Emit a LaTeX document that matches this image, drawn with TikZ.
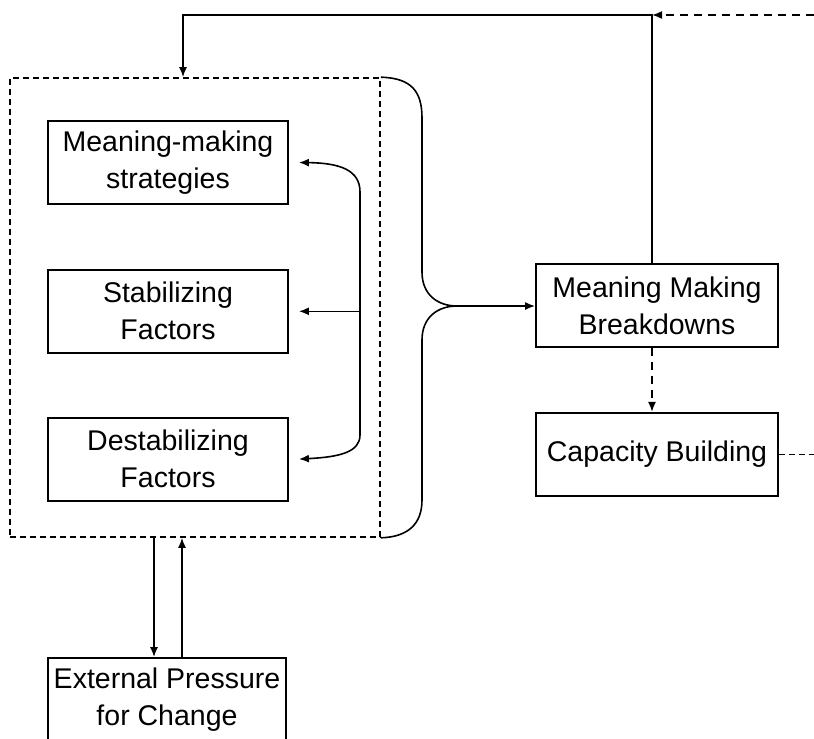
\documentclass[tikz,border=0pt]{standalone}
\usepackage{fontspec}
\setmainfont{Liberation Sans}
\usetikzlibrary{arrows.meta}
\usetikzlibrary{positioning}
\tikzset{box/.style={draw=black, line width=0.9pt, minimum width=#1, minimum height=41.5pt, inner sep=0pt, align=center, font=\fontsize{14.25}{18.5}\selectfont},
	%default width of the small boxes
	box/.default={120pt},
	arr/.style={-{Latex[length=5pt,width=4pt]}, line width=0.8pt},
	dashline/.style={dash pattern=on 3pt off 2pt, line width=0.8pt}}

\begin{document}
\begin{tikzpicture}[x=0.5pt, y=-0.5pt]
		\useasboundingbox (0,0) rectangle (814,739);
%		\draw[step=50,help lines,black!20] (0,0) grid (814,739);
		\node[draw, dashline, minimum width=185pt, minimum height=229.5pt, inner sep=0pt] (context) at (195,307.5) {};
		\node[box] (strat) at (168,162.5) {Meaning-making\\strategies};
		\node[box, below=32pt of strat] (stab) {Stabilizing\\Factors};
		\node[box, below=31.5pt of stab] (destab) {Destabilizing\\Factors};
		\node[box=121pt] (breakdown) at (657,305.5) {Meaning Making\\Breakdowns};
		\node[box=121pt, below=32pt of breakdown] (capacity) {Capacity Building};
		\node[box=119pt, minimum height=42pt] (external) at (167,700) {External Pressure\\for Change};

		\coordinate (loop) at (652,15);
		\coordinate (top) at (183,15);
		\coordinate (feedin) at (814,15);
		\coordinate (feedout) at (814,450);
		\coordinate (spine) at (360,309);
		\coordinate (tip) at (457,306);

		% brace on the right side of the frame
		\draw[line width=0.8pt] (context.north east)
			.. controls (412,78) and (422,92) .. (422,118)
			-- (422,272)
			.. controls (422,295) and (438,306) .. (tip)
			.. controls (438,306) and (422,317) .. (422,340)
			-- (422,500)
			.. controls (422,524) and (408,537) .. (context.south east);
		\draw[arr] (tip) -- (breakdown.west |- tip);

		% links between the three factors
		\draw[arr, {Latex[length=5pt,width=4pt]}-{Latex[length=5pt,width=4pt]}] ([xshift=5pt]strat.east)
			.. controls (340,163) and (360,170) .. (360,192)
			-- (360,435)
			.. controls (360,452) and (340,457) .. ([xshift=5pt]destab.east);
		\draw[arr] (spine |- stab.east) -- ([xshift=5pt]stab.east);

		% feedback loop over the top
		\draw[arr] (breakdown.north -| loop) -- (loop) -- (top) -- (top |- context.north);
		\draw[arr, dash pattern=on 4pt off 3pt] (feedin) -- (loop);
		\draw[arr, dash pattern=on 4pt off 3pt] (breakdown.south -| loop) -- (capacity.north -| loop);
		\draw[dashline] (capacity.east) -- (feedout |- capacity.east);

		% outside pressure
		\draw[arr] ([xshift=-6.5pt]external.north |- context.south) -- ([xshift=-6.5pt]external.north);
		\draw[arr] ([xshift=7.5pt]external.north) -- ([xshift=7.5pt]external.north |- context.south);
	\end{tikzpicture}
\end{document}
